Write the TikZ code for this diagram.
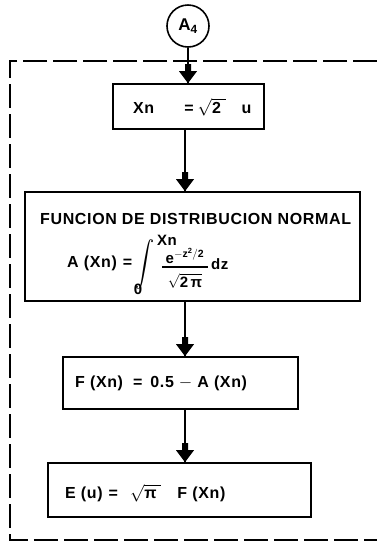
\documentclass[tikz,border=0pt]{standalone}
\usepackage{amsmath}
\usepackage{graphicx}
\usepackage{fontspec}
\setmainfont{Liberation Sans}
\newfontfamily\lab{Liberation Sans}[LetterSpace=4]
\newcommand\blkarrow[1]{\fill #1 -- ++(-9,-12) -- ++(6,0) -- ++(0,-7) -- ++(6,0) -- ++(0,7) -- ++(6,0) -- cycle;}
\begin{document}
\begin{tikzpicture}[x=1pt,y=-1pt,
  box/.style={draw,line width=1.6pt,inner sep=0pt},
  txt/.style={anchor=west,inner sep=0pt,font=\lab\bfseries\fontsize{16}{18}\selectfont},
  sml/.style={inner sep=0pt,font=\lab\bfseries\fontsize{15}{17}\selectfont},
  frame/.style={line width=1.8pt,dash pattern=on 24pt off 6pt},
  conn/.style={line width=1.4pt}]
\useasboundingbox (0,0) rectangle (377,542);
% frame
\coordinate (f1) at (377,61);
\coordinate (f2) at (10,61);
\coordinate (f3) at (10,540);
\coordinate (f4) at (377,540);
\draw[frame] (f1) -- (f2) -- (f3) -- (f4);
% nodes
\node[draw,line width=1.6pt,circle,minimum size=42pt,inner sep=0pt] (a4) at (188,26)
  {\lab\bfseries\fontsize{17}{19}\selectfont A$_{\text{4}}$};
\node[box,minimum width=151pt,minimum height=45pt] (b1) at (188.5,106.5) {};
\node[box,minimum width=335pt,minimum height=109pt] (b2) at (192.5,246.5) {};
\node[box,minimum width=235pt,minimum height=52pt] (b3) at (180.5,383) {};
\node[box,minimum width=263pt,minimum height=54pt] (b4) at (179.5,490) {};
\coordinate (ax) at (185,0);
% texts
\node[txt] (t1) at (133,107) {Xn\hspace{30pt}=\hspace{4pt}$\sqrt{\text{2}\;}$\hspace{16pt}u};
\node[txt] (t2) at (40,219) {FUNCION DE DISTRIBUCION NORMAL};
\node[txt] (t2b) at (67,263) {A (Xn)\hspace{6pt}=};
\node[inner sep=0pt] (int) at (145,264) {\scalebox{1.1}[1.3]{\fontsize{16}{18}\selectfont$\displaystyle\int$}};
\node[sml] (up) at (167,240) {Xn};
\node[sml] (lo) at (138,289) {0};
\node[sml] (num) at (185,256) {e$^{-\text{z}^{\text{2}}/\text{2}}$};
\node[sml] (den) at (185,281) {$\sqrt{\text{2}\,\text{π}}$};
\coordinate (fb1) at (162,267);
\coordinate (fb2) at (208,267);
\draw[line width=1.3pt] (fb1) -- (fb2);
\node[sml,anchor=west] (dz) at (211,264) {dz};
\node[txt] (t3) at (75,383) {F (Xn)\hspace{10pt}=\hspace{8pt}0.5\hspace{5pt}$-$\hspace{5pt}A (Xn)};
\node[txt] (t4) at (65,493) {E (u)\hspace{6pt}=\hspace{12pt}$\sqrt{\text{π}\;}$\hspace{16pt}F (Xn)};
% connectors
\draw[conn] (a4.south) -- (a4.south |- b1.north);
\blkarrow{(a4.south |- b1.north)}
\draw[conn] (b1.south -| ax) -- (b2.north -| ax);
\blkarrow{(b2.north -| ax)}
\draw[conn] (b2.south -| ax) -- (b3.north -| ax);
\blkarrow{(b3.north -| ax)}
\draw[conn] (b3.south -| ax) -- (b4.north -| ax);
\blkarrow{(b4.north -| ax)}
\end{tikzpicture}
\end{document}
